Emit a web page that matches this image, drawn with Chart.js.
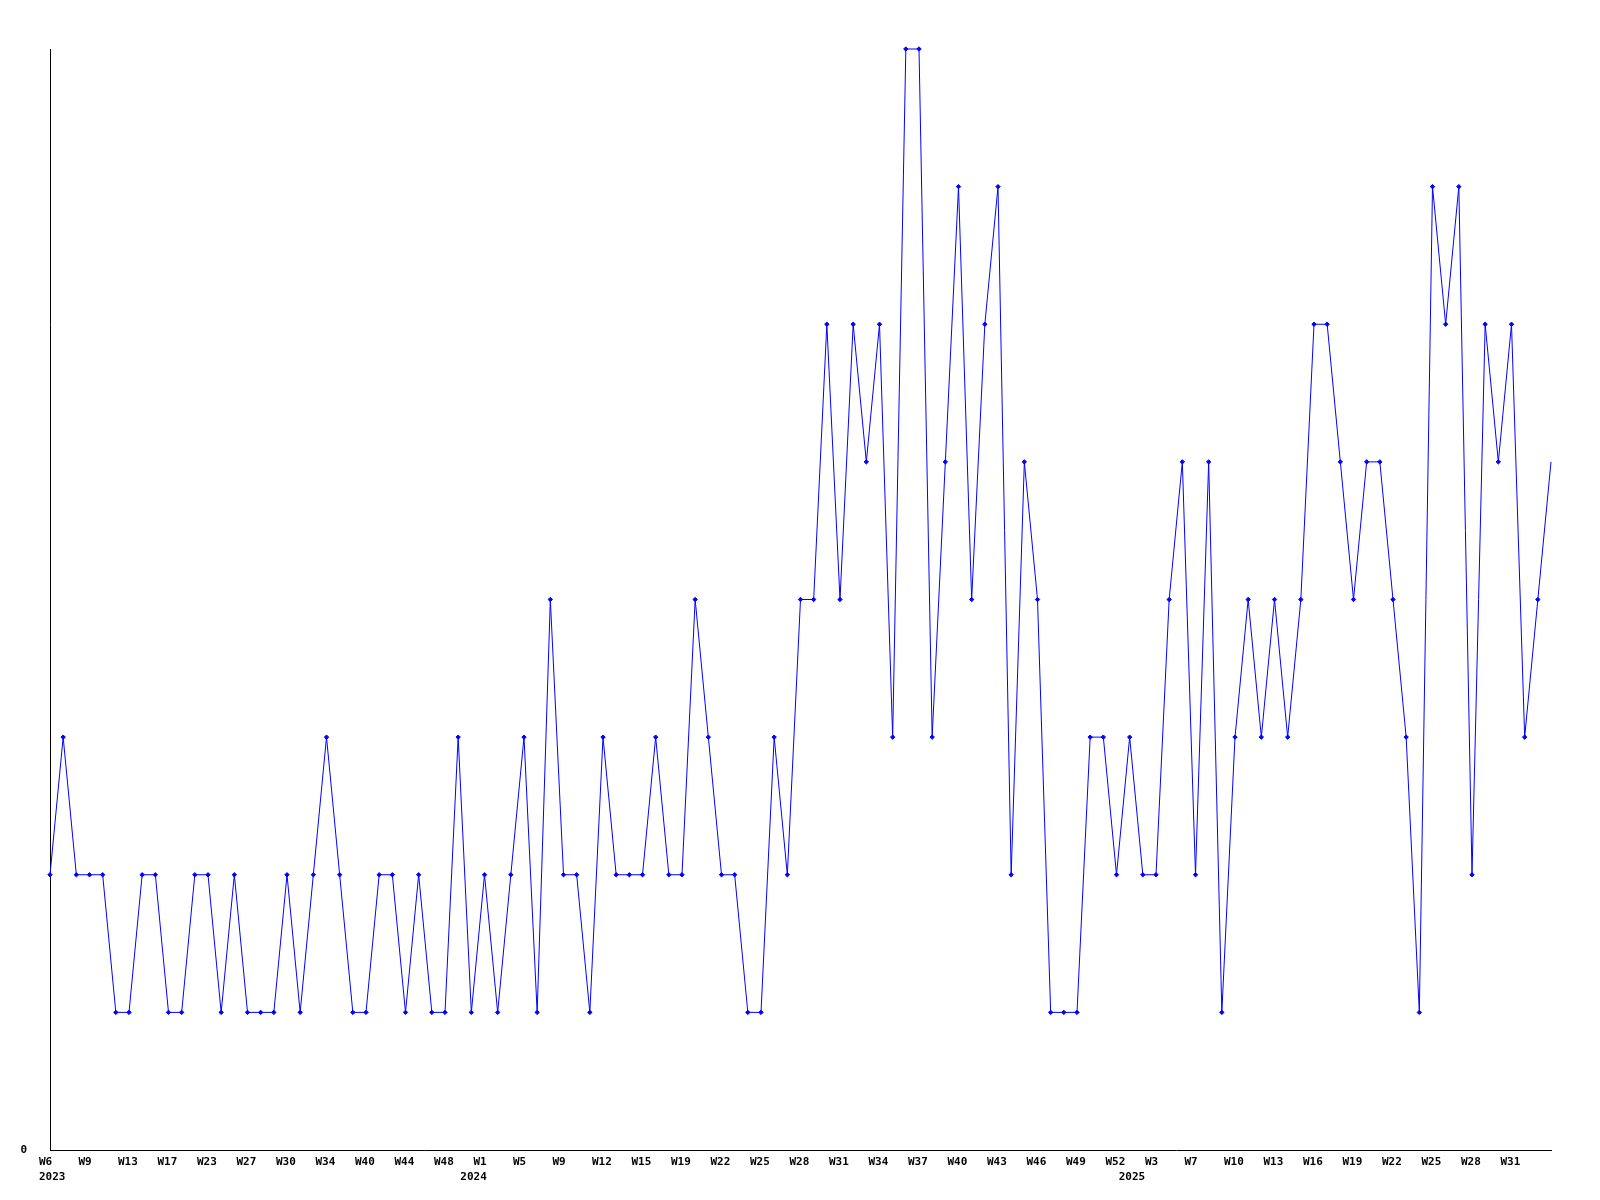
<!DOCTYPE html>
<html>
<head>
<meta charset="utf-8">
<script src="https://cdn.jsdelivr.net/npm/chart.js@4.4.1/dist/chart.umd.min.js"></script>
<style>
    html, body { margin: 0; padding: 0; background: #fff; }
    #wrap { width: 1600px; height: 1200px; }
</style>
</head>
<body>
<div id="wrap"><canvas id="chart" width="1600" height="1200"></canvas></div>
<script>
// Недели (категории оси X)
const weekLabels = [
    'W6', 'W7', 'W8', 'W9', 'W10', 'W12', 'W13', 'W14', 'W15', 'W17',
    'W19', 'W21', 'W23', 'W24', 'W26', 'W27', 'W28', 'W29', 'W30', 'W31',
    'W33', 'W34', 'W36', 'W38', 'W40', 'W41', 'W42', 'W44', 'W45', 'W46',
    'W48', 'W50', 'W52', 'W1', 'W2', 'W4', 'W5', 'W7', 'W8', 'W9',
    'W10', 'W11', 'W12', 'W13', 'W14', 'W15', 'W16', 'W18', 'W19', 'W20',
    'W21', 'W22', 'W23', 'W24', 'W25', 'W26', 'W27', 'W28', 'W29', 'W30',
    'W31', 'W32', 'W33', 'W34', 'W35', 'W36', 'W37', 'W38', 'W39', 'W40',
    'W41', 'W42', 'W43', 'W44', 'W45', 'W46', 'W47', 'W48', 'W49', 'W50',
    'W51', 'W52', 'W1', 'W2', 'W3', 'W4', 'W6', 'W7', 'W8', 'W9',
    'W10', 'W11', 'W12', 'W13', 'W14', 'W15', 'W16', 'W17', 'W18', 'W19',
    'W20', 'W21', 'W22', 'W23', 'W24', 'W25', 'W26', 'W27', 'W28', 'W29',
    'W30', 'W31', 'W32', 'W33', 'W34'
];

// Значения по неделям
const weekValues = [
    2, 3, 2, 2, 2, 1, 1, 2, 2, 1,
    1, 2, 2, 1, 2, 1, 1, 1, 2, 1,
    2, 3, 2, 1, 1, 2, 2, 1, 2, 1,
    1, 3, 1, 2, 1, 2, 3, 1, 4, 2,
    2, 1, 3, 2, 2, 2, 3, 2, 2, 4,
    3, 2, 2, 1, 1, 3, 2, 4, 4, 6,
    4, 6, 5, 6, 3, 8, 8, 3, 5, 7,
    4, 6, 7, 2, 5, 4, 1, 1, 1, 3,
    3, 2, 3, 2, 2, 4, 5, 2, 5, 1,
    3, 4, 3, 4, 3, 4, 6, 6, 5, 4,
    5, 5, 4, 3, 1, 7, 6, 7, 2, 6,
    5, 6, 3, 4, 5
];

// Годы и индексы недель, с которых они начинаются
const yearNames = ['2023', '2024', '2025'];
const yearStarts = [0, 32, 82];

// Подписи оси Y
const yTickLabels = ['0'];
const yMax = 8;

const axisFont = { family: 'DejaVu Sans Mono', size: 11, weight: 'bold' };

// Подписи годов под неделями
const yearLabelsPlugin = {
    id: 'yearLabels',
    afterDraw(chart) {
        const ctx = chart.ctx;
        const x = chart.scales.x;
        ctx.save();
        ctx.font = 'bold 11px "DejaVu Sans Mono"';
        ctx.fillStyle = '#000';
        ctx.textAlign = 'left';
        ctx.textBaseline = 'middle';
        yearNames.forEach((name, i) => {
            ctx.fillText(name, x.getPixelForValue(yearStarts[i]) - 11, chart.chartArea.bottom + 27);
        });
        ctx.restore();
    }
};

const ctx = document.getElementById('chart').getContext('2d');
const lastIndex = weekValues.length - 1;

new Chart(ctx, {
    type: 'line',
    data: {
        labels: weekLabels,
        datasets: [{
            data: weekValues,
            borderColor: '#0000ff',
            backgroundColor: '#0000ff',
            borderWidth: 1,
            tension: 0,
            fill: false,
            clip: false,
            pointStyle: 'rectRot',
            pointRadius: (c) => c.dataIndex === lastIndex ? 0 : 2.2,
            pointBorderWidth: 1,
            pointBorderColor: '#0000ff',
            pointBackgroundColor: '#0000ff'
        }]
    },
    options: {
        responsive: false,
        animation: false,
        devicePixelRatio: 1,
        layout: { padding: { top: 49, right: 49, left: 0, bottom: 0 } },
        plugins: {
            legend: { display: false },
            tooltip: { enabled: false }
        },
        scales: {
            x: {
                type: 'category',
                offset: false,
                grid: { display: false, drawTicks: false, tickLength: 0 },
                border: { display: true, color: '#000', width: 1 },
                afterFit: (scale) => { scale.height = 50; },
                ticks: {
                    autoSkip: false,
                    maxRotation: 0,
                    minRotation: 0,
                    align: 'start',
                    labelOffset: -11,
                    padding: 6,
                    color: '#000',
                    font: axisFont,
                    callback: (value, index) => (index % 3 === 0 && index < lastIndex) ? weekLabels[index] : ''
                }
            },
            y: {
                min: 0,
                max: yMax,
                grid: { display: false, drawTicks: false, tickLength: 0 },
                border: { display: true, color: '#000', width: 1 },
                afterFit: (scale) => { scale.width = 50; },
                afterBuildTicks: (scale) => { scale.ticks = yTickLabels.map(t => ({ value: Number(t) })); },
                ticks: {
                    padding: 23,
                    color: '#000',
                    font: axisFont,
                    callback: (value) => String(value)
                }
            }
        }
    },
    plugins: [yearLabelsPlugin]
});
</script>
</body>
</html>
